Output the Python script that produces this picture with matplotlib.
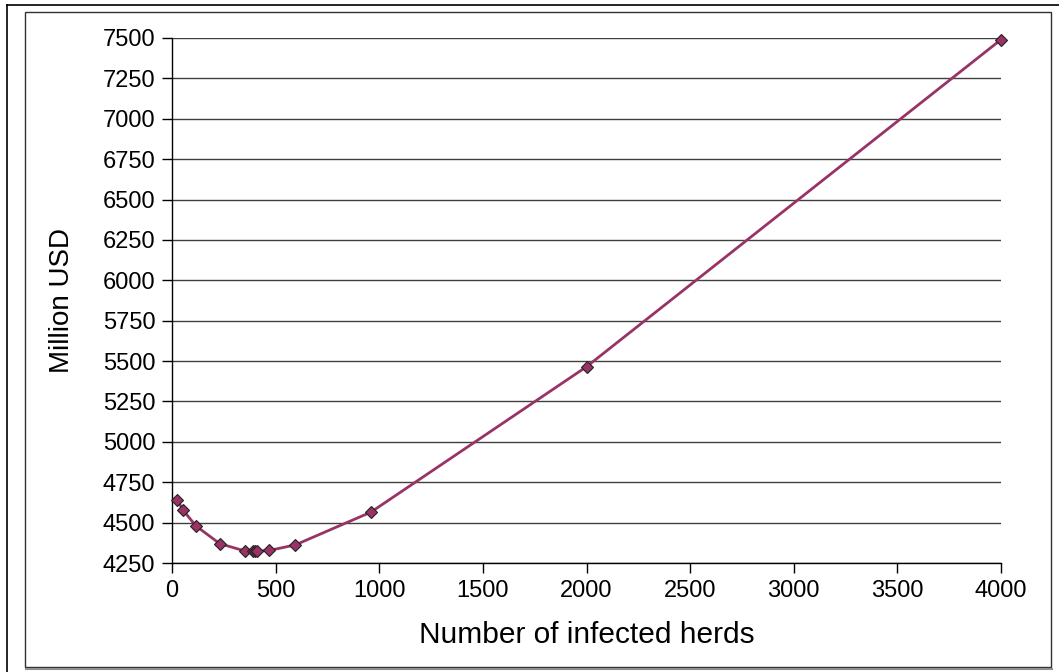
import matplotlib
matplotlib.use("Agg")
import matplotlib.pyplot as plt
from matplotlib.patches import Rectangle
from matplotlib.lines import Line2D

plt.rcParams['font.family'] = ['Liberation Sans', 'DejaVu Sans']

# data
herds = [25, 55, 115, 230, 350, 390, 400, 410, 470, 595, 960, 2000, 4000]
cost = [4640, 4575, 4480, 4370, 4325, 4322, 4322, 4323, 4328, 4362, 4565, 5465, 7490]

y_ticks = list(range(4250, 7501, 250))
x_ticks = list(range(0, 4001, 500))

W, H = 1059, 672
fig = plt.figure(figsize=(W / 100, H / 100), dpi=100)
ax = fig.add_axes([172 / W, 1 - 563 / H, (1001 - 172) / W, (563 - 38) / H])

# frame lines around the chart (pixel coords)
def fx(px):
    return px / W

def fy(py):
    return 1 - py / H

fig.add_artist(Line2D([fx(7), fx(1059)], [fy(5), fy(5)], color='black', lw=1.2))
fig.add_artist(Line2D([fx(7), fx(7)], [fy(5), fy(672)], color='black', lw=1.2))
fig.add_artist(Rectangle((fx(25), fy(667)), fx(1051) - fx(25), fy(12) - fy(667),
                         fill=False, edgecolor='#303030', lw=1.0))
fig.add_artist(Line2D([fx(26), fx(1052)], [fy(669), fy(669)], color='#909090', lw=1.5))

ax.plot(herds, cost, color='#993366', lw=2.0, marker='D', markersize=6,
        markerfacecolor='#993366', markeredgecolor='#222222', markeredgewidth=0.8,
        zorder=3, clip_on=False)

ax.set_xlim(0, 4000)
ax.set_ylim(4250, 7500)
ax.set_xticks(x_ticks)
ax.set_yticks(y_ticks)
ax.tick_params(axis='both', direction='out', length=7, width=1, color='black',
               labelsize=17, pad=5)
ax.yaxis.grid(True, color='#404040', lw=1.0)
ax.set_axisbelow(True)
for s in ['top', 'right']:
    ax.spines[s].set_visible(False)
for s in ['left', 'bottom']:
    ax.spines[s].set_linewidth(1.0)
ax.set_xlabel('Number of infected herds', fontsize=21.5, labelpad=14)
ax.set_ylabel('Million USD', fontsize=20, labelpad=20)

fig.savefig('out.png', dpi=100)
